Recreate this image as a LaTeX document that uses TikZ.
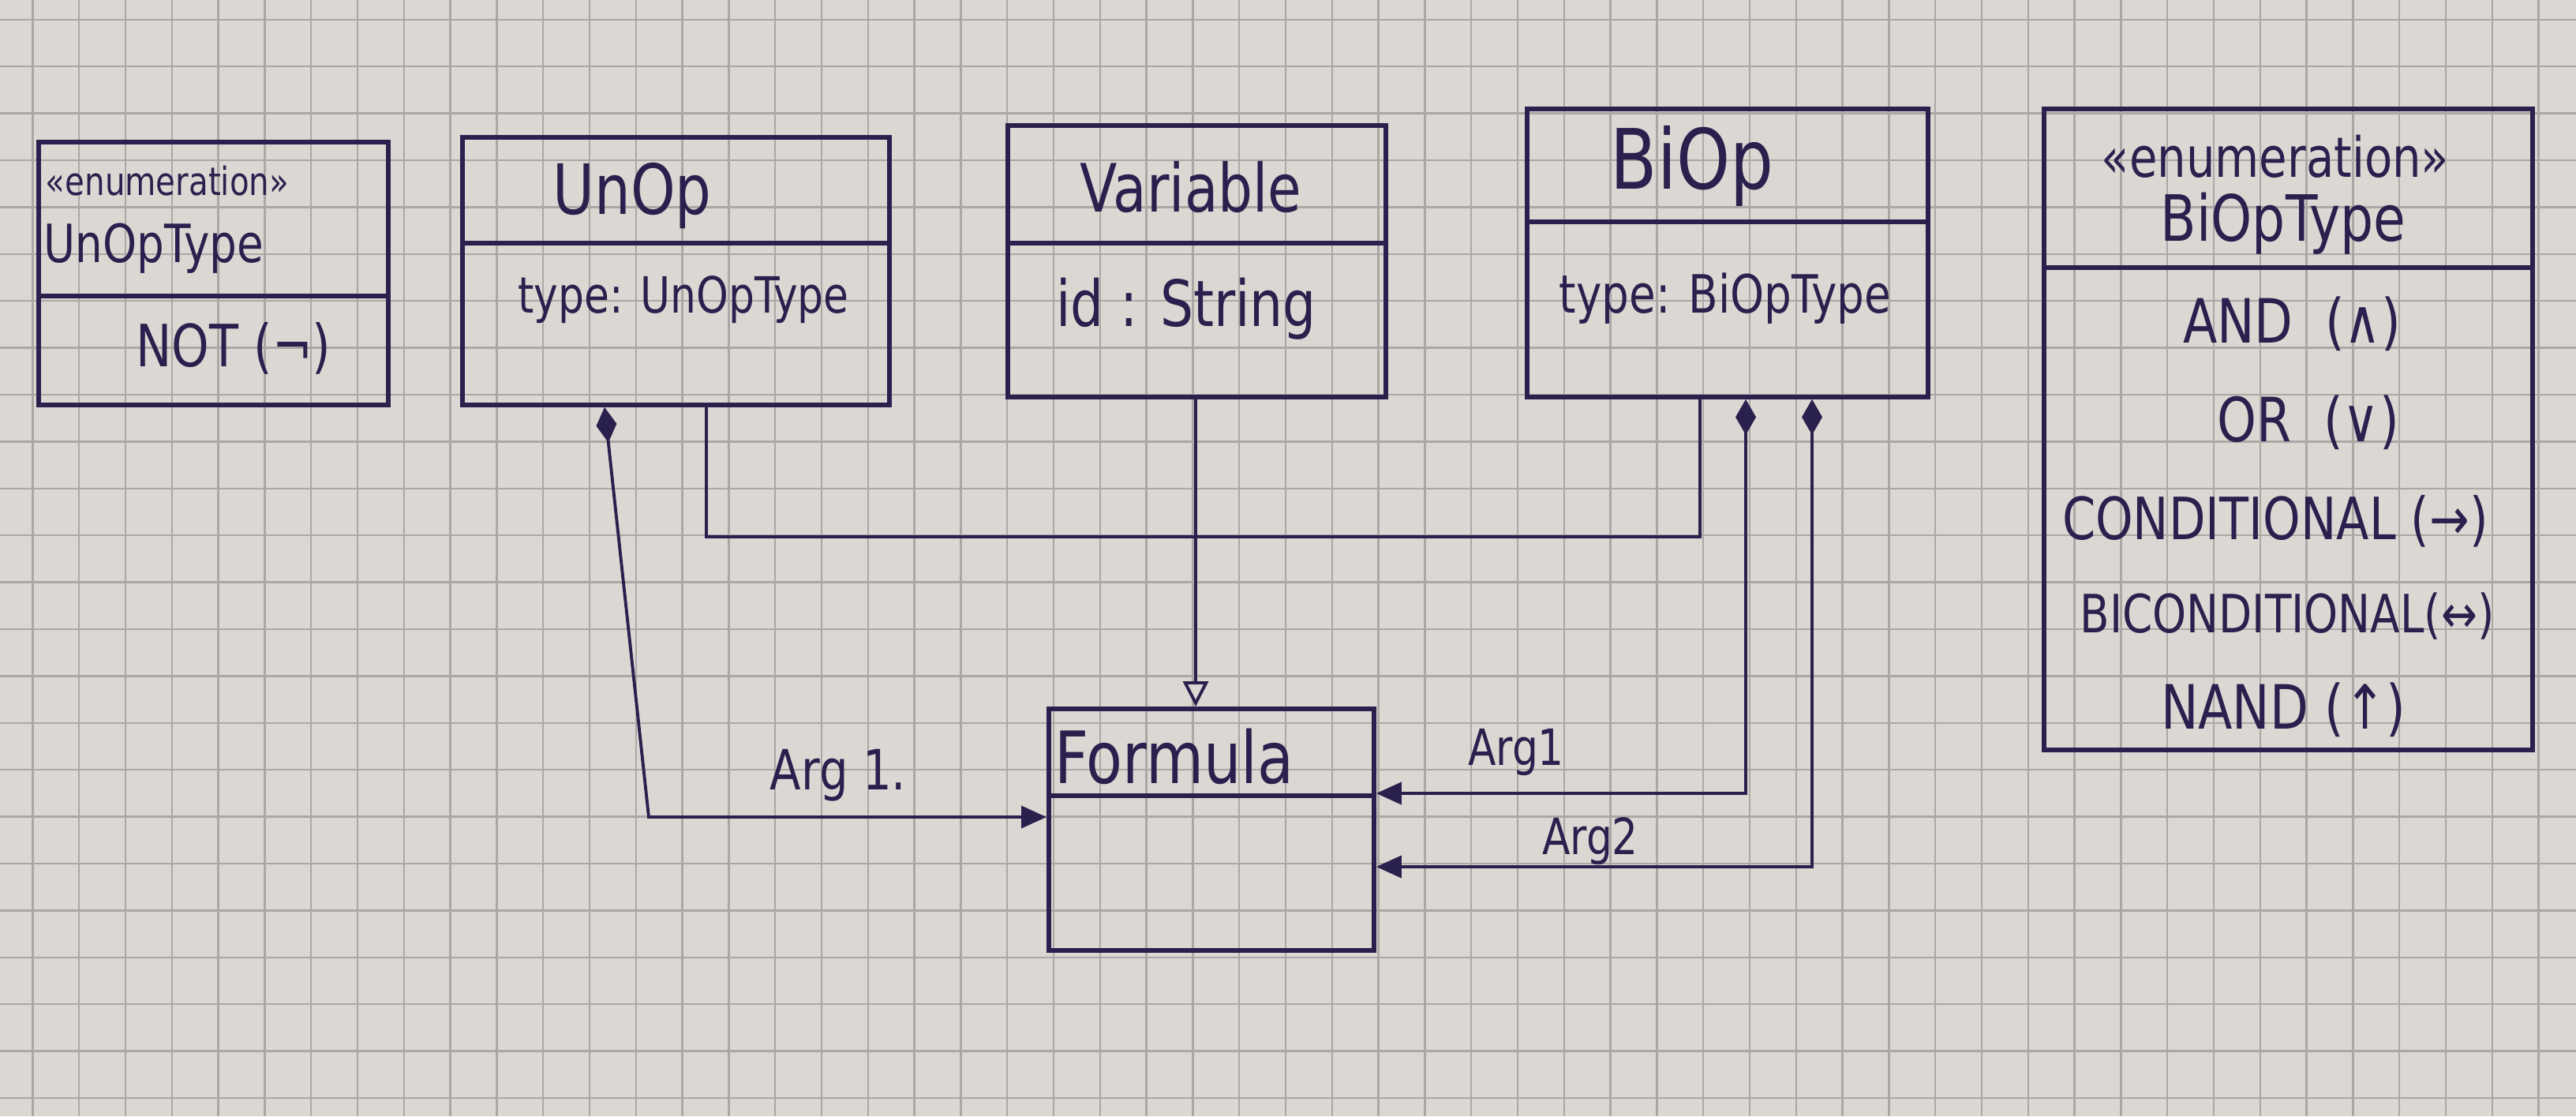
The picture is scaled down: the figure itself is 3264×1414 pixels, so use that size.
\documentclass[tikz,border=0pt]{standalone}
\usepackage{fontspec}
\setmainfont{DejaVu Sans}[FakeStretch=0.82]
\usetikzlibrary{arrows.meta,calc}
\definecolor{ink}{RGB}{42,32,78}
\definecolor{paper}{RGB}{219,216,211}
\definecolor{gridc}{RGB}{170,167,165}
\newcommand\hsz[1]{\fontsize{#1}{#1}\selectfont}
\begin{document}
\begin{tikzpicture}[x=0.01cm,y=-0.01cm,
  umlbox/.style={draw=ink, line width=1.6pt, rectangle, inner sep=0pt, anchor=north west},
  divline/.style={draw=ink, line width=1.5pt},
  lbl/.style={text=ink, inner sep=0pt},
  conn/.style={draw=ink, line width=1.1pt},
  gridline/.style={draw=gridc, line width=0.7pt},
  comp/.style={{Diamond[length=0.45cm,width=0.26cm]}-{Triangle[length=0.32cm,width=0.28cm]}},
  gen/.style={-{Triangle[open,length=0.32cm,width=0.32cm,fill=paper]}},
]
\fill[paper] (0,0) rectangle (3264,1414);
\useasboundingbox (0,0) rectangle (3264,1414);
\foreach \i in {0,...,54} \draw[gridline] ({41.4+\i*58.8},0) -- ({41.4+\i*58.8},1414);
\foreach \j in {0,...,23} \draw[gridline] (0,{24.8+\j*59.4}) -- (3264,{24.8+\j*59.4});

% boxes
\node[umlbox, minimum width=4.43cm, minimum height=3.33cm] (unoptype) at (46,177) {};
\node[umlbox, minimum width=5.41cm, minimum height=3.39cm] (unop) at (583,171) {};
\node[umlbox, minimum width=4.79cm, minimum height=3.44cm] (variable) at (1274,156) {};
\node[umlbox, minimum width=5.08cm, minimum height=3.65cm] (biop) at (1932,135) {};
\node[umlbox, minimum width=6.19cm, minimum height=8.12cm] (biotype) at (2587,135) {};
\node[umlbox, minimum width=4.12cm, minimum height=3.06cm] (formula) at (1326,895) {};

% dividers
\draw[divline] (unoptype.west |- 0,375) -- (unoptype.east |- 0,375);
\draw[divline] (unop.west |- 0,308) -- (unop.east |- 0,308);
\draw[divline] (variable.west |- 0,308) -- (variable.east |- 0,308);
\draw[divline] (biop.west |- 0,281) -- (biop.east |- 0,281);
\draw[divline] (biotype.west |- 0,339) -- (biotype.east |- 0,339);
\draw[divline] (formula.west |- 0,1008) -- (formula.east |- 0,1008);

% texts
\node[lbl] (ut1) at (212,229) {\hsz{14}«enumeration»};
\node[lbl] (ut2) at (195,315) {\hsz{19}UnOpType};
\node[lbl] (ut3) at (296,441) {\hsz{21}NOT (¬)};
\node[lbl] (u1) at (801,248) {\hsz{25}UnOp};
\node[lbl] (u2) at (866,380) {\hsz{18}type: UnOpType};
\node[lbl] (v1) at (1509,237) {\hsz{24}Variable};
\node[lbl] (v2) at (1503,391) {\hsz{23}id : String};
\node[lbl] (b1) at (2144,210) {\hsz{30}BiOp};
\node[lbl] (b2) at (2186,378) {\hsz{19}type: BiOpType};
\node[lbl] (e1) at (2883,198) {\hsz{20}«enumeration»};
\node[lbl] (e2) at (2893,283) {\hsz{23}BiOpType};
\node[lbl] (e3) at (2904,410) {\hsz{22}AND\ \ (∧)};
\node[lbl] (e4) at (2925,535) {\hsz{22}OR\ \ (∨)};
\node[lbl] (e5) at (2883,660) {\hsz{21}CONDITIONAL (→)};
\node[lbl] (e6) at (2898,781) {\hsz{19}BICONDITIONAL(↔)};
\node[lbl] (e7) at (2893,899) {\hsz{22}NAND (↑)};
\node[lbl] (f1) at (1488,958) {\hsz{26}Formula};

% generalisation
\coordinate (jn) at (1515,680);
\draw[conn] (unop.south -| 895,0) |- (jn);
\draw[conn] (biop.south -| 2154,0) |- (jn);
\draw[conn, gen] (variable.south -| jn) -- (formula.north -| jn);

% compositions
\coordinate (c1) at (822,1035);
\coordinate (c2) at (2212,1005);
\coordinate (c3) at (2296,1098);
\draw[conn, comp] (unop.south -| 766,0) -- (c1) -- (formula.west |- c1);
\draw[conn, comp] (biop.south -| c2) -- (c2) -- (formula.east |- c2);
\draw[conn, comp] (biop.south -| c3) -- (c3) -- (formula.east |- c3);

\node[lbl] (a1) at (1062,982) {\hsz{20}Arg 1.};
\node[lbl] (a2) at (1921,953) {\hsz{18}Arg1};
\node[lbl] (a3) at (2015,1066) {\hsz{18}Arg2};
\end{tikzpicture}
\end{document}
